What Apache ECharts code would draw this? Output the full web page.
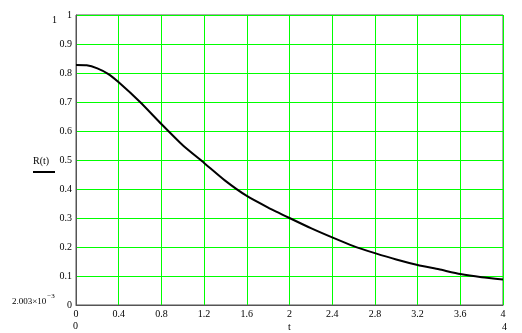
<!DOCTYPE html>
<html><head><meta charset="utf-8">
<script src="https://cdn.jsdelivr.net/npm/echarts@6/dist/echarts.min.js"></script>
<style>html,body{margin:0;padding:0;background:#fff}#c{width:522px;height:333px}</style>
</head><body><div id="c"></div>
<script>
const tValues = [0, 0.1, 0.2, 0.3, 0.4, 0.6, 0.8, 1.0, 1.2, 1.4, 1.6, 1.8, 2.0, 2.2, 2.4, 2.6, 2.8, 3.0, 3.2, 3.4, 3.6, 3.8, 4.0];
const rValues = [0.828, 0.827, 0.816, 0.797, 0.768, 0.700, 0.624, 0.551, 0.490, 0.428, 0.376, 0.336, 0.300, 0.265, 0.233, 0.203, 0.179, 0.157, 0.138, 0.123, 0.107, 0.096, 0.088];
const xTicks = [0, 0.4, 0.8, 1.2, 1.6, 2, 2.4, 2.8, 3.2, 3.6, 4];
const yTicks = [0, 0.1, 0.2, 0.3, 0.4, 0.5, 0.6, 0.7, 0.8, 0.9, 1];

const font = 'Liberation Serif';
const chart = echarts.init(document.getElementById('c'));
chart.setOption({
  animation: false,
  grid: {left: 76, top: 15, right: 19, bottom: 28, show: true, borderColor: '#555', borderWidth: 1},
  xAxis: {
    type: 'value', min: xTicks[0], max: xTicks[xTicks.length - 1], interval: 0.4,
    axisLine: {show: true, lineStyle: {color: '#555'}},
    axisTick: {show: false},
    axisLabel: {color: '#000', fontFamily: font, fontSize: 10, margin: 4,
      formatter: v => String(+v.toFixed(1))},
    splitLine: {show: true, lineStyle: {color: '#00ff00', width: 1}}
  },
  yAxis: {
    type: 'value', min: yTicks[0], max: yTicks[yTicks.length - 1], interval: 0.1,
    axisLine: {show: true, lineStyle: {color: '#555'}},
    axisTick: {show: false},
    axisLabel: {color: '#000', fontFamily: font, fontSize: 10, margin: 4,
      formatter: v => String(+v.toFixed(1))},
    splitLine: {show: true, lineStyle: {color: '#00ff00', width: 1}}
  },
  series: [{
    type: 'line', showSymbol: false, smooth: 0.2,
    data: tValues.map((t, i) => [t, rValues[i]]),
    lineStyle: {color: '#000', width: 2}
  }],
  graphic: [
    {type: 'text', left: 52, top: 15, style: {text: '1', font: '10px ' + font, fill: '#000'}},
    {type: 'text', left: 33, top: 156, style: {text: 'R(t)', font: '10px ' + font, fill: '#000'}},
    {type: 'line', shape: {x1: 33, y1: 172, x2: 55, y2: 172}, style: {stroke: '#000', lineWidth: 2}},
    {type: 'text', left: 12, top: 293, style: {
      text: '{a|2.003×10}{b|−3}', fill: '#000',
      rich: {a: {fontFamily: font, fontSize: 9, verticalAlign: 'bottom'},
             b: {fontFamily: font, fontSize: 7, verticalAlign: 'top', padding: [0,0,6,1]}}}},
    {type: 'text', left: 73, top: 321, style: {text: '0', font: '10px ' + font, fill: '#000'}},
    {type: 'text', left: 288, top: 322, style: {text: 't', font: '10px ' + font, fill: '#000'}},
    {type: 'text', left: 502, top: 322, style: {text: '4', font: '10px ' + font, fill: '#000'}}
  ]
});
</script></body></html>
